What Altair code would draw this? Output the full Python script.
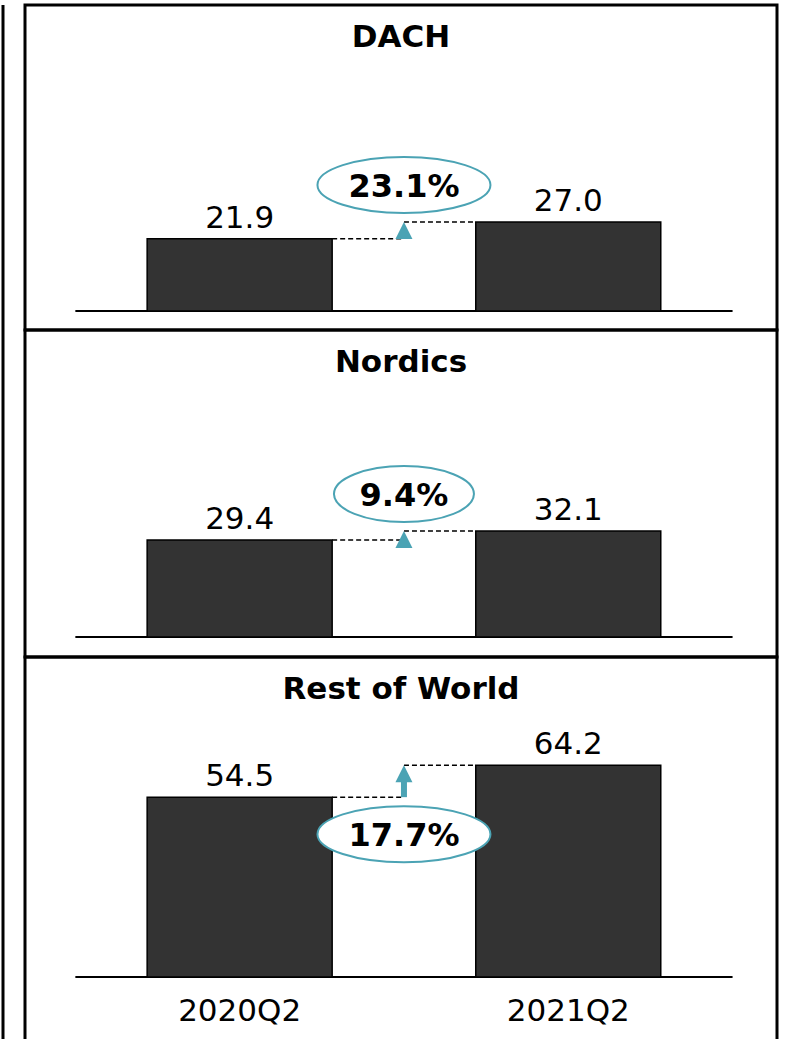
import altair as alt
import pandas as pd

# ---- data ----
regions = ["DACH", "Nordics", "Rest of World"]
periods = ["2020Q2", "2021Q2"]
values_2020q2 = [21.9, 29.4, 54.5]
values_2021q2 = [27.0, 32.1, 64.2]
growth_labels = ["23.1%", "9.4%", "17.7%"]
label_side = ["above", "above", "below"]

# ---- styling / layout ----
TEAL = "#4ba3b4"
BAR = "#333333"
FONT = "DejaVu Sans"
FS = 31
FS_PCT = 32

PANEL_W = 752
panel_heights = [325, 327, 384]
baseline_from_top = [306, 307, 320]
PX_PER_UNIT = 3.3
x_domain = [-0.638, 1.62]
ellipse_w = [173, 140, 173]
ellipse_h = 56
ellipse_gap = 37
BAR_W = 185


def ellipse_path(b):
    k = 0.5523
    return (f"M-1,0 C-1,{-b*k:.4f} {-k},{-b:.4f} 0,{-b:.4f} "
            f"C{k},{-b:.4f} 1,{-b*k:.4f} 1,0 "
            f"C1,{b*k:.4f} {k},{b:.4f} 0,{b:.4f} "
            f"C{-k},{b:.4f} -1,{b*k:.4f} -1,0 Z")


pos = list(range(len(periods)))
mid = (pos[0] + pos[1]) / 2


def panel(i):
    lo, hi = values_2020q2[i], values_2021q2[i]
    h = panel_heights[i]
    top = baseline_from_top[i] / PX_PER_UNIT
    bottom = -(h - baseline_from_top[i]) / PX_PER_UNIT
    xs = alt.Scale(domain=x_domain, nice=False, zero=False)
    ys = alt.Scale(domain=[bottom, top], nice=False, zero=False)

    def X(f):
        return alt.X(f, type="quantitative", scale=xs, axis=None)

    def Y(f):
        return alt.Y(f, type="quantitative", scale=ys, axis=None)

    bars_df = pd.DataFrame({"period": periods, "pos": pos,
                            "value": [lo, hi],
                            "label": [f"{lo:.1f}", f"{hi:.1f}"]})
    base_df = pd.DataFrame({"x": [min(pos) - 0.5], "x2": [max(pos) + 0.5], "y": [0.0]})
    low_df = pd.DataFrame({"x": [pos[0]], "x2": [mid], "y": [lo]})
    high_df = pd.DataFrame({"x": [mid], "x2": [pos[1]], "y": [hi]})
    arrow_df = pd.DataFrame({"x": [mid], "lo": [lo], "hi": [hi],
                             "growth": [growth_labels[i]]})
    title_df = pd.DataFrame({"region": [regions[i]]})

    baseline = alt.Chart(base_df).mark_rule(color="black", strokeWidth=2).encode(
        x=X("x"), x2="x2", y=Y("y"))
    dash_low = alt.Chart(low_df).mark_rule(color="black", strokeWidth=1.5,
                                           strokeDash=[5, 3], xOffset=BAR_W / 2).encode(
        x=X("x"), x2="x2", y=Y("y"))
    dash_high = alt.Chart(high_df).mark_rule(color="black", strokeWidth=1.5,
                                             strokeDash=[5, 3], x2Offset=-BAR_W / 2).encode(
        x=X("x"), x2="x2", y=Y("y"))
    shaft = alt.Chart(arrow_df).mark_rule(color=TEAL, strokeWidth=6, y2Offset=8).encode(
        x=X("x"), y=Y("lo"), y2="hi")
    head = alt.Chart(arrow_df).mark_point(shape="M0,0L1,2L-1,2Z", size=289, filled=True,
                                          fill=TEAL, opacity=1, strokeWidth=0).encode(
        x=X("x"), y=Y("hi"))
    bars = alt.Chart(bars_df).mark_bar(width=BAR_W, fill=BAR, stroke="black",
                                       strokeWidth=1.5, orient="vertical").encode(
        x=X("pos"), y=Y("value"), y2=alt.datum(0))
    vlabels = alt.Chart(bars_df).mark_text(font=FONT, fontSize=FS, dy=-11,
                                           baseline="alphabetic", color="black").encode(
        x=X("pos"), y=Y("value"), text="label:N")

    if label_side[i] == "above":
        anchor, off = "hi", -ellipse_gap
    else:
        anchor, off = "lo", ellipse_gap
    w = ellipse_w[i]
    ell = alt.Chart(arrow_df).mark_point(shape=ellipse_path(ellipse_h / w), size=w * w,
                                         filled=True, fill="white", stroke=TEAL,
                                         strokeWidth=2, opacity=1, yOffset=off).encode(
        x=X("x"), y=Y(anchor))
    pct = alt.Chart(arrow_df).mark_text(font=FONT, fontSize=FS_PCT, fontWeight="bold",
                                        baseline="middle", dy=off + 2, color="black").encode(
        x=X("x"), y=Y(anchor), text="growth:N")
    title = alt.Chart(title_df).mark_text(font=FONT, fontSize=FS, fontWeight="bold",
                                          baseline="alphabetic", color="black").encode(
        x=alt.value(PANEL_W / 2), y=alt.value(42), text="region:N")

    layers = [baseline, dash_low, dash_high, shaft, head, bars, vlabels, ell, pct, title]
    if i == len(regions) - 1:
        cats = alt.Chart(bars_df).mark_text(font=FONT, fontSize=FS, dy=44,
                                            baseline="alphabetic", color="black").encode(
            x=X("pos"), y=alt.Y(datum=0, scale=ys, axis=None), text="period:N")
        layers.append(cats)
    return alt.layer(*layers).properties(width=PANEL_W, height=h)


panels = [panel(i) for i in range(len(regions))]

left = alt.Chart(pd.DataFrame({"a": [0]})).mark_rule(color="black", strokeWidth=3).encode(
    x=alt.value(1), y=alt.value(0), y2=alt.value(sum(panel_heights) + 5)
).properties(width=6, height=sum(panel_heights),
             view=alt.ViewBackground(stroke="transparent"))

right = alt.vconcat(*panels, spacing=0, bounds="flush")
chart = alt.hconcat(left, right, spacing=17, bounds="flush").properties(
    padding={"left": 0, "top": 2, "right": 0, "bottom": 0}
).configure_view(stroke="black", strokeWidth=3)

chart.save("out.html", embed_options={"renderer": "svg", "actions": False})
